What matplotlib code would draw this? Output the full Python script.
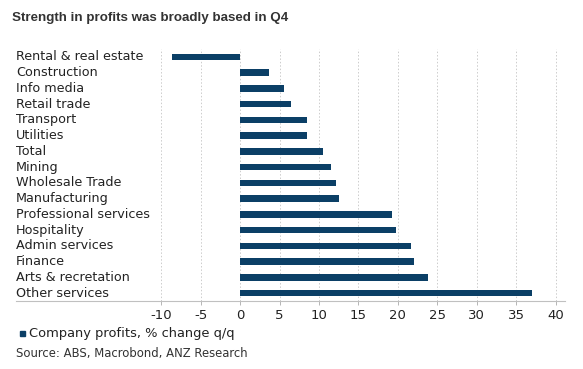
import matplotlib
matplotlib.use('Agg')
import matplotlib.pyplot as plt

# company profits by industry, % change q/q
categories = ['Rental & real estate', 'Construction', 'Info media',
              'Retail trade', 'Transport', 'Utilities', 'Total', 'Mining',
              'Wholesale Trade', 'Manufacturing', 'Professional services',
              'Hospitality', 'Admin services', 'Finance',
              'Arts & recretation', 'Other services']
values = [-8.7, 3.6, 5.6, 6.5, 8.5, 8.5, 10.5, 11.5, 12.1, 12.5, 19.3, 19.7,
          21.7, 22.0, 23.8, 37.0]
x_ticks = [-10, -5, 0, 5, 10, 15, 20, 25, 30, 35, 40]

BAR = '#0B3F66'
TEXT = '#222222'


def main():
    fig = plt.figure(figsize=(5.83, 3.69), dpi=100)
    ax = fig.add_axes([16 / 583, 68 / 369, 549 / 583, 252 / 369])

    pos = list(range(len(categories)))
    ax.barh(pos, values, height=0.42, color=BAR, zorder=3)
    ax.set_ylim(15.5, -0.5)
    ax.set_xlim(-28.45, 41.2)

    # category names sit inside the axes, left aligned
    for p, name in zip(pos, categories):
        ax.text(0.0, p, name, transform=ax.get_yaxis_transform(),
                ha='left', va='center', fontsize=9.15, color=TEXT,
                family='DejaVu Sans')

    ax.set_yticks([])
    ax.set_xticks(x_ticks)
    ax.set_xticklabels([str(t) for t in x_ticks])
    ax.tick_params(axis='x', length=3, width=0.6, color='#aaaaaa',
                   labelsize=9.5, labelcolor=TEXT, pad=3)
    ax.grid(axis='x', color='#cccccc', linestyle=(0, (1.5, 2)), linewidth=0.7,
            zorder=0)
    for side in ['top', 'left', 'right']:
        ax.spines[side].set_visible(False)
    ax.spines['bottom'].set_color('#c0c0c0')
    ax.spines['bottom'].set_linewidth(0.8)

    fig.text(12 / 583, 1 - 18 / 369, 'Strength in profits was broadly based in Q4',
             ha='left', va='center', fontsize=9.6, fontweight='bold',
             color='#333333', family='Liberation Sans')

    # legend line and source
    fig.patches.append(plt.Rectangle((19.5 / 583, 1 - 335.5 / 369), 5 / 583, 5 / 369,
                                     transform=fig.transFigure, color=BAR,
                                     figure=fig))
    fig.text(29 / 583, 1 - 334 / 369, 'Company profits, % change q/q',
             ha='left', va='center', fontsize=9.4, color=TEXT,
             family='DejaVu Sans')
    fig.text(16 / 583, 1 - 353 / 369, 'Source: ABS, Macrobond, ANZ Research',
             ha='left', va='center', fontsize=8.35, color='#333333',
             family='DejaVu Sans')

    fig.savefig('out.png', dpi=100)


if __name__ == '__main__':
    main()
